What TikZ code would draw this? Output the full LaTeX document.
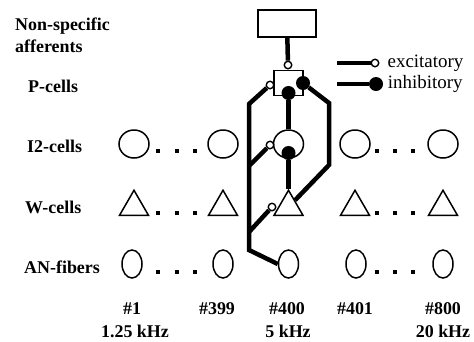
\documentclass[tikz,border=0pt]{standalone}
\usepackage{fontspec}
\setmainfont{Liberation Serif}
\usetikzlibrary{positioning,shapes.geometric}
\tikzset{
  cellc/.style={draw,line width=1.5bp,fill=white,inner sep=0pt},
  icell/.style={cellc,ellipse,minimum width=30bp,minimum height=28bp},
  wcell/.style={cellc,regular polygon,regular polygon sides=3,minimum size=33.5bp},
  anfib/.style={cellc,ellipse,minimum width=20bp,minimum height=28bp},
  pcell/.style={cellc,rectangle,minimum width=29bp,minimum height=25bp},
  nsbox/.style={cellc,rectangle,minimum width=58bp,minimum height=27bp},
  exc/.style={circle,draw,line width=1.4bp,fill=white,inner sep=0pt,minimum size=7.5bp},
  inh/.style={circle,fill=black,inner sep=0pt,minimum size=14bp},
  con/.style={line width=4.5bp},
  rowlbl/.style={font=\fontsize{18}{22}\selectfont\bfseries,inner sep=0pt,anchor=base west,align=left},
  collbl/.style={font=\fontsize{18}{22}\selectfont\bfseries,inner sep=0pt,anchor=base},
  leg/.style={font=\fontsize{19}{22}\selectfont,inner sep=0pt},
  dotsq/.style={fill=black},
}
\begin{document}
\begin{tikzpicture}[x=1bp,y=-1bp]
\useasboundingbox (0,0) rectangle (474,341);
% row labels
\node[rowlbl,anchor=north west] (lNS) at (15,18) {Non-specific\\afferents};
\node[rowlbl] (lP) at (28,92) {P-cells};
\node[rowlbl] (lI) at (27,152) {I2-cells};
\node[rowlbl] (lW) at (25,213) {W-cells};
\node[rowlbl] (lAN) at (24,273) {AN-fibers};
% cell rows
\foreach \n/\x/\xa in {1/134/132,399/223/223,400/288.5/288.5,401/355/356,800/443/443} {
  \node[icell] (i\n) at (\x,144) {};
  \node[wcell] (w\n) at (\x,207) {};
  \node[anfib] (an\n) at (\xa,264) {};
}
\foreach \x in {158,177,195,377,395,413} {
  \fill[dotsq] (\x-2,149) rectangle (\x+2,153);
  \fill[dotsq] (\x-2,211) rectangle (\x+2,215);
  \fill[dotsq] (\x-2,270) rectangle (\x+2,274);
}
% column labels
\foreach \n/\x in {1/132,399/217,400/287,401/355,800/443}
  \node[collbl] (n\n) at (\x,314) {\#\n};
\node[collbl] (f1) at (135,337) {1.25 kHz};
\node[collbl] (f400) at (288,337) {5 kHz};
\node[collbl] (f800) at (443,337) {20 kHz};
% channel #400 circuit
\node[nsbox] (ns) at (287,23.5) {};
\node[pcell] (p400) at (288.5,83) {};
\node[exc] (sNA) at (288,65) {};
\node[exc] (sPl) at (270,85) {};
\node[inh] (sPr) at (303,83) {};
\node[inh] (sPb) at (288.5,93) {};
\node[exc] (sIl) at (270,145) {};
\node[inh] (sIb) at (288.5,153) {};
\node[exc] (sWl) at (272,207) {};
\coordinate (jL1) at (249,104);
\coordinate (jI) at (249,166);
\coordinate (jW) at (249,232);
\coordinate (jL3) at (249,250);
\coordinate (jR1) at (329,103);
\coordinate (jR2) at (329,165);
\draw[con] (ns) -- (sNA);
\draw[con] (sPb) -- (i400);
\draw[con] (sIb) -- (w400);
\draw[con] (sPl) -- (jL1) -- (jL3) -- (an400.west);
\draw[con] (jI) -- (sIl);
\draw[con] (jW) -- (sWl);
\draw[con] (sPr) -- (jR1) -- (jR2) -- (w400);
% legend
\node[exc] (lgE) at (375,63) {};
\coordinate (lgEs) at (337,63);
\draw[con] (lgEs) -- (lgE);
\node[leg,right=8bp of lgE] (tE) {excitatory};
\node[inh] (lgI) at (376,84) {};
\coordinate (lgIs) at (337,84);
\draw[con] (lgIs) -- (lgI);
\node[leg,right=4.5bp of lgI] (tI) {inhibitory};
\end{tikzpicture}
\end{document}
